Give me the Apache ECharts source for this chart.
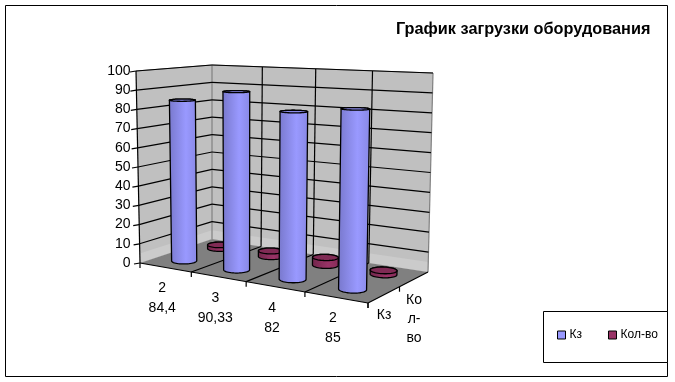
<!DOCTYPE html>
<html>
<head>
<meta charset="utf-8">
<style>html,body{margin:0;padding:0;background:#fff}#c{width:675px;height:382px}</style>
<script src="https://cdn.jsdelivr.net/npm/echarts@6/dist/echarts.min.js"></script>
</head>
<body>
<div id="c"></div>
<script>
const categories = ["2\n84,4", "3\n90,33", "4\n82", "2\n85"];
const depthLabels = ["Кз", "Ко\nл-\nво"];
const seriesNames = ["Кз", "Кол-во"];
const kz = [84.4, 90.33, 82, 85];
const kolvo = [2, 3, 4, 2];
const yTicks = [0, 10, 20, 30, 40, 50, 60, 70, 80, 90, 100];

const FONT = '"Liberation Sans", Arial, sans-serif';
// view of the 3D box: corners front-left, front-right, back-right, back-left
const floorBox = [[140, 263], [368, 303], [428, 272], [212, 239]];
const ceilBox = [[136, 71], [372, 80], [433, 73], [212, 65]];

function homography(q) {
  const [p0, p1, p2, p3] = q;
  const dx1 = p1[0] - p2[0], dx2 = p3[0] - p2[0], sx = p0[0] - p1[0] + p2[0] - p3[0];
  const dy1 = p1[1] - p2[1], dy2 = p3[1] - p2[1], sy = p0[1] - p1[1] + p2[1] - p3[1];
  const den = dx1 * dy2 - dx2 * dy1;
  const g = (sx * dy2 - dx2 * sy) / den, h = (dx1 * sy - sx * dy1) / den;
  const a = p1[0] - p0[0] + g * p1[0], b = p3[0] - p0[0] + h * p3[0], c = p0[0];
  const d = p1[1] - p0[1] + g * p1[1], e = p3[1] - p0[1] + h * p3[1], f = p0[1];
  return (u, v) => {
    const k = g * u + h * v + 1;
    return [(a * u + b * v + c) / k, (d * u + e * v + f) / k];
  };
}
const onFloor = homography(floorBox), onCeil = homography(ceilBox);
const lean = [0, 1, 2, 3].map(i => ceilBox[i][0] - floorBox[i][0]);
function leanAt(u, v) {
  const front = lean[0] + (lean[1] - lean[0]) * u, back = lean[3] + (lean[2] - lean[3]) * u;
  return front + (back - front) * v;
}
function P(u, v, w) {
  const a = onFloor(u, v), b = onCeil(u, v);
  return [a[0] + leanAt(u, v) * w, a[1] + (b[1] - a[1]) * w];
}
function heightOf(api, cs, val) { return (cs.y + cs.height - api.coord([0, val])[1]) / cs.height; }
function poly(points, fill, stroke, lw) {
  return { type: 'polygon', shape: { points }, style: { fill, stroke: stroke || null, lineWidth: lw || 1 } };
}
function line(a, b, color) {
  return { type: 'line', shape: { x1: a[0], y1: a[1], x2: b[0], y2: b[1] }, style: { stroke: color, lineWidth: 1.2, fill: null } };
}
const WALL = '#c0c0c0', WALL_LOW = '#cbcbcb', FLOOR = '#808080', EDGE = '#808080', INK = '#000000';

function renderBox(params, api) {
  const cs = params.coordSys;
  const kids = [];
  const low = heightOf(api, cs, 5);
  kids.push(poly([P(0, 0, 0), P(0, 1, 0), P(0, 1, 1), P(0, 0, 1)], WALL));
  kids.push(poly([P(0, 1, 0), P(1, 1, 0), P(1, 1, 1), P(0, 1, 1)], WALL));
  kids.push(poly([P(0, 0, 0), P(0, 1, 0), P(0, 1, low), P(0, 0, low)], WALL_LOW));
  kids.push(poly([P(0, 1, 0), P(1, 1, 0), P(1, 1, low), P(0, 1, low)], WALL_LOW));
  kids.push(poly([P(0, 0, 0), P(1, 0, 0), P(1, 1, 0), P(0, 1, 0)], FLOOR));
  kids.push(line(P(0, 0, 1), P(0, 1, 1), EDGE));
  kids.push(line(P(0, 1, 1), P(1, 1, 1), EDGE));
  kids.push(line(P(1, 1, 0), P(1, 1, 1), EDGE));
  kids.push(line(P(0, 1, 0), P(0, 1, 1), EDGE));
  yTicks.forEach(t => {
    const w = heightOf(api, cs, t);
    const a = P(0, 0, w), b = P(0, 1, w), c = P(1, 1, w);
    if (t > 0) { kids.push(line(a, b, INK)); kids.push(line(b, c, INK)); }
    kids.push(line([a[0] - 6, a[1] + 1], a, INK));
  });
  categories.forEach((_, i) => {
    if (i > 0) {
      const u = i / categories.length;
      kids.push(line(P(u, 0, 0), P(u, 1, 0), INK));
      kids.push(line(P(u, 1, 0), P(u, 1, 1), INK));
    }
  });
  for (let i = 0; i <= categories.length; i++) {
    const p = P(i / categories.length, 0, 0);
    kids.push(line(p, [p[0], p[1] + 5], INK));
  }
  for (let r = 0; r < depthLabels.length; r++) {
    const p = P(1, r / depthLabels.length, 0);
    kids.push(line(p, [p[0], p[1] + 5], INK));
  }
  kids.push(line(P(0, 0, 0), P(1, 0, 0), INK));
  kids.push(line(P(1, 0, 0), P(1, 1, 0), INK));
  kids.push(line(P(0, 0, 0), P(0, 0, 1), INK));
  return { type: 'group', children: kids };
}

function ring(uc, vc, w, du, dv) {
  const pts = [];
  for (let k = 0; k < 48; k++) {
    const t = k / 48 * Math.PI * 2;
    pts.push(P(uc + du * Math.cos(t), vc + dv * Math.sin(t), w));
  }
  return pts;
}
function arcBetween(pts, from, to, step) {
  const out = []; let i = from;
  for (;;) { out.push(pts[i]); if (i === to) break; i = (i + step + pts.length) % pts.length; }
  return out;
}
function extremes(pts) {
  let l = 0, r = 0;
  pts.forEach((p, i) => { if (p[0] < pts[l][0]) l = i; if (p[0] > pts[r][0]) r = i; });
  return [l, r];
}
function frontArc(pts, l, r) {
  const a = arcBetween(pts, r, l, 1), b = arcBetween(pts, r, l, -1);
  const my = s => s.reduce((m, p) => m + p[1], 0) / s.length;
  return my(a) > my(b) ? [a, b] : [b, a];
}
function cylinder(rowCount, row, bodyStops, topFill) {
  return function (params, api) {
    const cs = params.coordSys;
    const i = api.value(0), val = api.value(1);
    const cellU = 1 / categories.length, cellV = 1 / rowCount;
    const uc = (api.coord([i, val])[0] - cs.x) / cs.width;
    const vc = (row + 0.5) * cellV;
    const w = heightOf(api, cs, val);
    const f = 0.4;
    const lowR = ring(uc, vc, 0, f * cellU / 2, f * cellV / 2);
    const topR = ring(uc, vc, w, f * cellU / 2, f * cellV / 2);
    const [bl, br] = extremes(lowR), [tl, tr] = extremes(topR);
    const lowFront = frontArc(lowR, bl, br)[0];
    const topBack = frontArc(topR, tl, tr)[1].slice().reverse();
    const grad = { type: 'linear', x: 0, y: 0, x2: 1, y2: 0, colorStops: bodyStops };
    return {
      type: 'group',
      children: [
        poly(lowFront.concat(topBack), grad, INK, 1.3),
        poly(topR, topFill, INK, 1.3)
      ]
    };
  };
}
function renderLabels(params, api) {
  const kids = [];
  categories.forEach((text, i) => {
    const p = P((i + 0.5) / categories.length, 0, 0);
    kids.push({ type: 'text', style: { text, x: p[0] - 3, y: p[1] + 11, align: 'center', verticalAlign: 'top',
      fontSize: 14, fontFamily: FONT, lineHeight: 20, fill: '#000' } });
  });
  depthLabels.forEach((text, r) => {
    const p = P(1, (r + 0.5) / depthLabels.length, 0);
    kids.push({ type: 'text', style: { text, x: p[0], y: p[1] + 11, align: 'center', verticalAlign: 'top',
      fontSize: 14, fontFamily: FONT, lineHeight: 19, fill: '#000' } });
  });
  return { type: 'group', children: kids };
}

const chart = echarts.init(document.getElementById('c'), null, { renderer: 'canvas' });
const rows = seriesNames.length;
chart.setOption({
  animation: false,
  backgroundColor: '#ffffff',
  title: {
    text: 'График загрузки оборудования', left: 391, top: 17,
    textStyle: { fontFamily: FONT, fontSize: 16.3, fontWeight: 'bold', color: '#000' }
  },
  grid: { left: 140, top: 71, width: 228, height: 192 },
  xAxis: { type: 'category', data: categories, axisLabel: { show: false }, axisTick: { show: false }, axisLine: { show: false }, splitLine: { show: false } },
  yAxis: {
    type: 'value', min: 0, max: 100, interval: 10,
    axisLabel: { fontFamily: FONT, fontSize: 14, color: '#000', margin: 9.5 },
    axisTick: { show: false }, axisLine: { show: false }, splitLine: { show: false }
  },
  legend: {
    data: seriesNames, left: 557, top: 329, orient: 'horizontal', padding: 0,
    itemWidth: 8, itemHeight: 8, itemGap: 26, icon: 'rect',
    textStyle: { fontFamily: FONT, fontSize: 12, color: '#000', padding: [0, 0, 0, -1] },
    itemStyle: { borderColor: '#000', borderWidth: 1 }
  },
  graphic: [
    { type: 'rect', silent: true, z: -10, shape: { x: 5.5, y: 5.5, width: 662, height: 371 }, style: { fill: 'none', stroke: '#000', lineWidth: 1 } },
    { type: 'rect', silent: true, z: -9, shape: { x: 543.5, y: 311.5, width: 124, height: 51 }, style: { fill: '#fff', stroke: '#000', lineWidth: 1 } }
  ],
  series: [
    { type: 'custom', silent: true, name: 'box', renderItem: renderBox, data: [0], encode: { x: 0, y: 0 }, z: 1 },
    { type: 'custom', name: seriesNames[1], itemStyle: { color: '#993366' }, z: 2,
      renderItem: cylinder(rows, 1, [{ offset: 0, color: '#70264b' }, { offset: 0.6, color: '#993366' }, { offset: 1, color: '#862c59' }], '#802b55'),
      data: kolvo.map((v, i) => [i, v]), encode: { x: 0, y: 1 } },
    { type: 'custom', name: seriesNames[0], itemStyle: { color: '#9999ff' }, z: 3,
      renderItem: cylinder(rows, 0, [{ offset: 0, color: '#7878cc' }, { offset: 0.6, color: '#9999ff' }, { offset: 1, color: '#8888e4' }], '#8a8ae8'),
      data: kz.map((v, i) => [i, v]), encode: { x: 0, y: 1 } },
    { type: 'custom', silent: true, name: 'labels', renderItem: renderLabels, data: [0], encode: { x: 0, y: 0 }, z: 4 }
  ]
});
</script>
</body>
</html>
